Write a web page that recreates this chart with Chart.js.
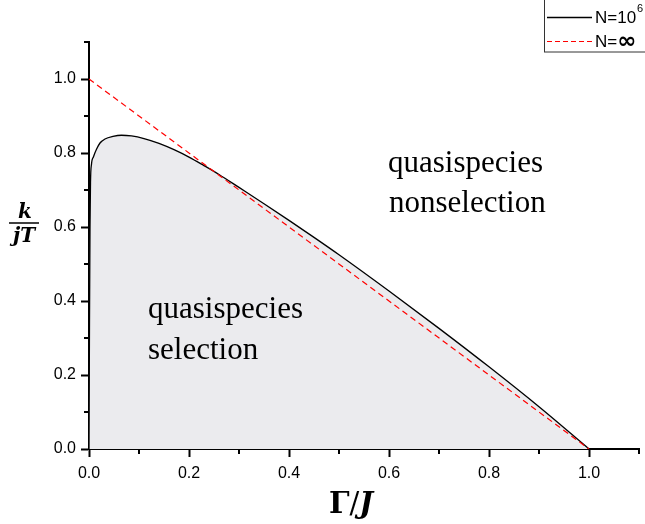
<!DOCTYPE html>
<html>
<head>
<meta charset="utf-8">
<script src="https://cdn.jsdelivr.net/npm/chart.js@4.4.1/dist/chart.umd.min.js"></script>
<style>
  html, body { margin: 0; padding: 0; background: #fff; }
  #wrap { width: 645px; height: 524px; position: relative; }
</style>
</head>
<body>
<div id="wrap"><canvas id="phase"></canvas></div>
<script>
// N = 10^6 boundary
const gammaN6 = [0, 0.001, 0.002, 0.003, 0.005, 0.009, 0.015, 0.022, 0.032, 0.048, 0.065, 0.085, 0.11, 0.14, 0.17, 0.2, 0.23, 0.26, 0.3, 0.35, 0.4, 0.45, 0.5, 0.6, 0.7, 0.8, 0.9, 1.0];
const kN6    = [0, 0.35, 0.6, 0.72, 0.77, 0.79, 0.81, 0.827, 0.838, 0.845, 0.848, 0.846, 0.839, 0.826, 0.809, 0.789, 0.766, 0.742, 0.707, 0.663, 0.618, 0.572, 0.525, 0.427, 0.326, 0.222, 0.114, 0];

// N = infinity boundary
const gammaInf = [0, 1];
const kInf     = [1, 0];

const xTicks = [0, 0.2, 0.4, 0.6, 0.8, 1.0];
const yTicks = [0, 0.2, 0.4, 0.6, 0.8, 1.0];
const minorTicks = [0.1, 0.3, 0.5, 0.7, 0.9, 1.1];

const toPts = (xs, ys) => xs.map((x, i) => ({ x: x, y: ys[i] }));

// minor ticks, text labels and the clipped legend box
const extras = {
  id: 'extras',
  afterDraw(chart) {
    const c = chart.ctx;
    const xs = chart.scales.x, ys = chart.scales.y;
    c.save();
    c.strokeStyle = '#000';
    c.lineWidth = 2;
    minorTicks.forEach(v => {
      let px = Math.round(xs.getPixelForValue(v));
      c.beginPath(); c.moveTo(px, xs.top); c.lineTo(px, xs.top + 5); c.stroke();
      let py = Math.round(ys.getPixelForValue(v));
      c.beginPath(); c.moveTo(ys.right, py); c.lineTo(ys.right - 5, py); c.stroke();
    });

    // region labels
    c.fillStyle = '#000';
    c.font = '31px "Liberation Serif", "Times New Roman", serif';
    c.textAlign = 'left';
    c.textBaseline = 'alphabetic';
    c.fillText('quasispecies', 148, 318);
    c.fillText('selection', 148, 359);
    c.fillText('quasispecies', 388, 172);
    c.fillText('nonselection', 389, 212);

    // x title  Γ/J
    c.font = 'bold 29px "DejaVu Serif", serif';
    c.fillText('Γ', 329, 513);
    let w = c.measureText('Γ').width;
    c.font = '29px "DejaVu Serif", serif';
    c.fillText('/', 329 + w, 513);
    let w2 = c.measureText('/').width;
    c.font = 'bold italic 29px "DejaVu Serif", serif';
    c.fillText('J', 329 + w + w2, 513);

    // y title  k / jT
    c.textAlign = 'center';
    c.font = 'bold italic 20px "DejaVu Serif", serif';
    c.fillText('k', 25, 218);
    c.fillText('jT', 24, 242);
    c.lineWidth = 1.5;
    c.beginPath(); c.moveTo(9, 223); c.lineTo(39, 223); c.stroke();

    // legend
    c.fillStyle = '#fff';
    c.fillRect(544, 0, 110, 52);
    c.strokeStyle = '#333';
    c.lineWidth = 1;
    c.strokeRect(544.5, -0.5, 110, 52.5);
    c.strokeStyle = '#000';
    c.lineWidth = 1.3;
    c.beginPath(); c.moveTo(547, 17.5); c.lineTo(592, 17.5); c.stroke();
    c.strokeStyle = '#ff0000';
    c.lineWidth = 1.1;
    c.setLineDash([5, 3]);
    c.beginPath(); c.moveTo(547, 41.5); c.lineTo(592, 41.5); c.stroke();
    c.setLineDash([]);
    c.fillStyle = '#000';
    c.textAlign = 'left';
    c.font = '17px "Liberation Sans", Arial, sans-serif';
    c.fillText('N=10', 595, 23);
    let wt = c.measureText('N=10').width;
    c.font = '11px "Liberation Sans", Arial, sans-serif';
    c.fillText('6', 595 + wt + 1, 12);
    c.font = '17px "Liberation Sans", Arial, sans-serif';
    c.fillText('N=', 595, 47);
    let wn = c.measureText('N=').width;
    c.font = 'bold 23px "DejaVu Sans", sans-serif';
    c.fillText('∞', 595 + wn, 48);
    c.restore();
  }
};

new Chart(document.getElementById('phase').getContext('2d'), {
  type: 'line',
  data: {
    datasets: [{
      label: 'N=10^6',
      data: toPts(gammaN6, kN6),
      borderColor: '#000',
      borderWidth: 1.3,
      backgroundColor: '#ebebee',
      fill: 'origin',
      pointRadius: 0,
      order: 1,
      cubicInterpolationMode: 'monotone'
    }, {
      label: 'N=∞',
      data: toPts(gammaInf, kInf),
      borderColor: '#ff0000',
      borderWidth: 1.2,
      borderDash: [6, 4],
      fill: false,
      pointRadius: 0,
      order: 0
    }]
  },
  options: {
    responsive: true,
    maintainAspectRatio: false,
    animation: false,
    layout: { padding: { top: 42, right: 6, left: 0, bottom: 0 } },
    plugins: { legend: { display: false }, tooltip: { enabled: false } },
    scales: {
      x: {
        type: 'linear',
        min: 0, max: 1.1,
        z: 1,
        afterFit: s => { s.height = 75; },
        afterBuildTicks: s => { s.ticks = xTicks.map(v => ({ value: v })); },
        ticks: {
          color: '#000',
          padding: 7,
          maxRotation: 0,
          font: { family: '"Liberation Sans", Arial, sans-serif', size: 16 },
          callback: v => v.toFixed(1)
        },
        grid: { drawOnChartArea: false, drawTicks: true, tickLength: 8, tickWidth: 2, tickColor: '#000' },
        border: { display: true, color: '#000', width: 2 }
      },
      y: {
        type: 'linear',
        min: 0, max: 1.1,
        z: 1,
        afterFit: s => { s.width = 89; },
        afterBuildTicks: s => { s.ticks = yTicks.map(v => ({ value: v })); },
        ticks: {
          color: '#000',
          padding: 5,
          font: { family: '"Liberation Sans", Arial, sans-serif', size: 16 },
          callback: v => v.toFixed(1)
        },
        grid: { drawOnChartArea: false, drawTicks: true, tickLength: 8, tickWidth: 2, tickColor: '#000' },
        border: { display: true, color: '#000', width: 2 }
      }
    }
  },
  plugins: [extras]
});
</script>
</body>
</html>
